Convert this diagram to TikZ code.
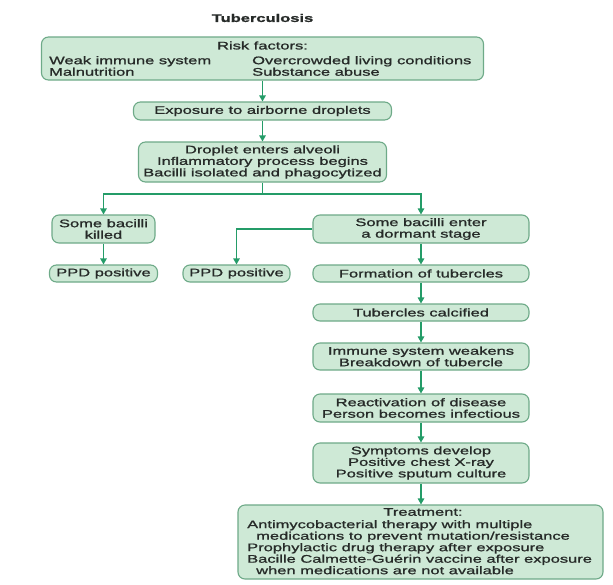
\documentclass[tikz,border=0pt]{standalone}
\usepackage{fontspec}
\setmainfont{Liberation Sans}[FakeStretch=1.5,FakeBold=1.2]
\usetikzlibrary{arrows.meta}
\definecolor{boxfill}{RGB}{206,233,214}
\definecolor{boxline}{RGB}{110,170,136}
\definecolor{arrowc}{RGB}{36,156,104}
\definecolor{txt}{RGB}{38,42,40}
\begin{document}
\begin{tikzpicture}[x=1pt,y=-1pt,
  box/.style={draw=boxline,fill=boxfill,line width=1.1pt,rounded corners=7pt,inner sep=0pt,
    text=txt,font=\fontsize{11}{11.5}\selectfont,align=center},
  lbl/.style={text=txt,font=\fontsize{11}{11.5}\selectfont,inner sep=0pt},
  conn/.style={draw=arrowc,line width=1.2pt},
  arr/.style={conn,-{Triangle[width=6.5pt,length=6pt]}}]
\fill[white] (0,0) rectangle (613,584);
\useasboundingbox (0,0) rectangle (613,584);

\node[font=\bfseries\fontsize{11}{12}\selectfont,text=txt,inner sep=0pt] (title) at (262.5,18) {Tuberculosis};

% boxes
\node[box,minimum width=442pt,minimum height=43pt] (risk) at (262.5,58.5) {};
\node[lbl] (rf) at (262.5,45.5) {Risk factors:};
\node[lbl,anchor=west,align=left] (rl) at (49,66) {Weak immune system\\Malnutrition};
\node[lbl,anchor=west,align=left] (rr) at (252,66) {Overcrowded living conditions\\Substance abuse};

\node[box,minimum width=258pt,minimum height=18pt] (expo) at (262.5,111) {Exposure to airborne droplets};
\node[box,minimum width=248pt,minimum height=40pt] (drop) at (262.5,162) {Droplet enters alveoli\\Inflammatory process begins\\Bacilli isolated and phagocytized};

\node[box,minimum width=103pt,minimum height=28pt] (killed) at (103.5,229) {Some bacilli\\killed};
\node[box,minimum width=108pt,minimum height=17pt] (ppd1) at (103.5,273.5) {PPD positive};
\node[box,minimum width=107pt,minimum height=17pt] (ppd2) at (236.5,273.5) {PPD positive};

\node[box,minimum width=216pt,minimum height=28pt] (dormant) at (421,229) {Some bacilli enter\\a dormant stage};
\node[box,minimum width=216pt,minimum height=17pt] (form) at (421,273.5) {Formation of tubercles};
\node[box,minimum width=216pt,minimum height=17pt] (calc) at (421,312.5) {Tubercles calcified};
\node[box,minimum width=216pt,minimum height=27pt] (immune) at (421,356.5) {Immune system weakens\\Breakdown of tubercle};
\node[box,minimum width=216pt,minimum height=28pt] (react) at (421,408) {Reactivation of disease\\Person becomes infectious};
\node[box,minimum width=216pt,minimum height=40pt] (sympt) at (421,463) {Symptoms develop\\Positive chest X-ray\\Positive sputum culture};

\node[box,minimum width=365pt,minimum height=74pt] (treat) at (420.5,542) {};
\node[lbl] (tt) at (423,512) {Treatment:};
\node[lbl,anchor=north west,align=left] (tl) at (247,520) {Antimycobacterial therapy with multiple\\
\hspace*{9pt}medications to prevent mutation/resistance\\
Prophylactic drug therapy after exposure\\
Bacille Calmette-Guérin vaccine after exposure\\
\hspace*{9pt}when medications are not available};

% connectors
\draw[arr] (risk) -- (expo);
\draw[arr] (expo) -- (drop);
\coordinate (split) at (262.5,194);
\draw[conn] (drop.south) -- (split);
\draw[arr] (split) -| (killed.north);
\draw[arr] (split) -| (dormant.north);
\draw[arr] (killed) -- (ppd1);
\draw[arr] (dormant.west) -| (ppd2.north);
\draw[arr] (dormant) -- (form);
\draw[arr] (form) -- (calc);
\draw[arr] (calc) -- (immune);
\draw[arr] (immune) -- (react);
\draw[arr] (react) -- (sympt);
\draw[arr] (sympt.south) -- (sympt.south |- treat.north);
\end{tikzpicture}
\end{document}
